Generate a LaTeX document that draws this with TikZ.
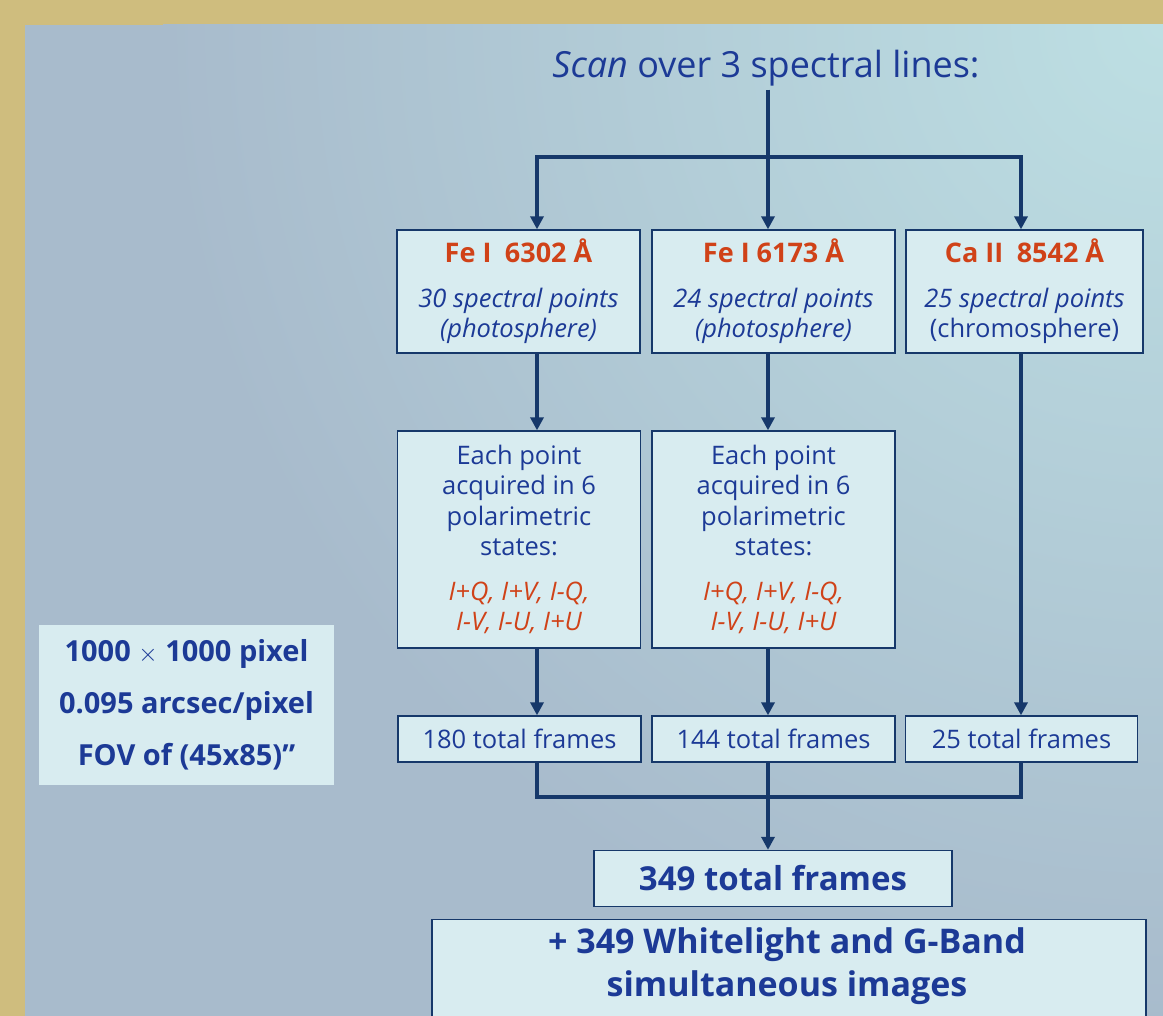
\documentclass[tikz,border=0pt]{standalone}
\usepackage{fontspec}
\setmainfont{Open Sans}
\usetikzlibrary{arrows.meta}

\definecolor{framegold}{RGB}{207,189,126}
\definecolor{bgdark}{RGB}{168,187,204}
\definecolor{bglight}{RGB}{189,223,227}
\definecolor{boxfill}{RGB}{216,236,240}
\definecolor{linecol}{RGB}{22,56,106}
\definecolor{txtblue}{RGB}{28,58,150}
\definecolor{txtred}{RGB}{208,66,24}

\begin{document}
\begin{tikzpicture}[x=1pt,y=-1pt,
    box/.style={draw=linecol, line width=1.3pt, fill=boxfill, align=center, inner sep=0pt, text=txtblue},
    link/.style={draw=linecol, line width=4pt},
    arr/.style={link, -{Triangle[width=13pt,length=13pt]}},
    boxtext/.style={font=\fontsize{25.5}{30.5}\selectfont},
    bigtext/.style={font=\fontsize{34}{43}\selectfont\bfseries}]
    \useasboundingbox (0,0) rectangle (1163,1016);
    % background panel
    \fill[framegold] (0,0) rectangle (1163,1016);
    \begin{scope}
        \clip (25,25) rectangle (1163,1016);
        \fill[bgdark] (25,25) rectangle (1163,1016);
        \shade[inner color=bglight, outer color=bgdark] (1163,25) circle (1000);
    \end{scope}

    \node[text=txtblue, font=\fontsize{36}{40}\selectfont] (scan) at (766,68) {\textit{Scan} over 3 spectral lines:};

    % spectral lines
    \node[box, boxtext, minimum width=243, minimum height=123] (fe1) at (518.5,291.5)
        {\textcolor{txtred}{\fontsize{27}{30}\selectfont\bfseries Fe I\enspace 6302 Å}\\[14pt]\itshape 30 spectral points\\\itshape (photosphere)};
    \node[box, boxtext, minimum width=243, minimum height=123] (fe2) at (773.5,291.5)
        {\textcolor{txtred}{\fontsize{27}{30}\selectfont\bfseries Fe I 6173 Å}\\[14pt]\itshape 24 spectral points\\\itshape (photosphere)};
    \node[box, boxtext, minimum width=237, minimum height=123] (ca) at (1024.5,291.5)
        {\textcolor{txtred}{\fontsize{27}{30}\selectfont\bfseries Ca II\enspace 8542 Å}\\[14pt]\itshape 25 spectral points\\(chromosphere)};

    % polarimetric states
    \foreach \n/\x in {pol1/519, pol2/773.5}
        \node[box, boxtext, minimum width=243, minimum height=217] (\n) at (\x,539.5)
            {Each point\\acquired in 6\\polarimetric\\states:\\[14pt]
             \color{txtred}\itshape I+Q, I+V, I-Q,\\\color{txtred}\itshape I-V, I-U, I+U};

    % frames
    \node[box, boxtext, minimum width=243, minimum height=46] (f1) at (519.5,739) {180 total frames};
    \node[box, boxtext, minimum width=243, minimum height=46] (f2) at (773.5,739) {144 total frames};
    \node[box, boxtext, minimum width=232, minimum height=46] (f3) at (1021.5,739) {25 total frames};

    \node[box, font=\fontsize{33}{36}\selectfont\bfseries, minimum width=358, minimum height=56] (total) at (773,878.5) {349 total frames};
    \node[box, minimum width=714, minimum height=120, anchor=north] (extra) at (789,919) {};
    \node[text=txtblue, align=center, bigtext] (extratxt) at (787,966)
        {+ 349 Whitelight and G-Band\\simultaneous images};

    \node[box, draw=none, font=\fontsize{29}{52}\selectfont\bfseries, minimum width=295, minimum height=160] (ccd) at (186.5,705)
        {1000 $\times$ 1000 pixel\\0.095 arcsec/pixel\\FOV of (45x85)”};

    % connectors
    \coordinate (split) at (768,157);
    \coordinate (sl) at (537,157);
    \coordinate (sr) at (1021,157);
    \draw[arr] (split |- scan.south) -- (split) -- (split |- fe2.north);
    \draw[arr] (split) -- (sl) -- (sl |- fe1.north);
    \draw[arr] (split) -- (sr) -- (sr |- ca.north);
    \draw[arr] (fe1.south -| sl) -- (pol1.north -| sl);
    \draw[arr] (fe2.south -| split) -- (pol2.north -| split);
    \draw[arr] (ca.south -| sr) -- (f3.north -| sr);
    \draw[arr] (pol1.south -| sl) -- (f1.north -| sl);
    \draw[arr] (pol2.south -| split) -- (f2.north -| split);

    \coordinate (bl) at (537,797);
    \coordinate (bm) at (768,797);
    \coordinate (br) at (1021,797);
    \draw[link] (f1.south -| bl) -- (bl) -- (br) -- (f3.south -| br);
    \draw[link] (f2.south -| bm) -- (bm);
    \draw[arr] (bm) -- (total.north -| bm);
\end{tikzpicture}
\end{document}
